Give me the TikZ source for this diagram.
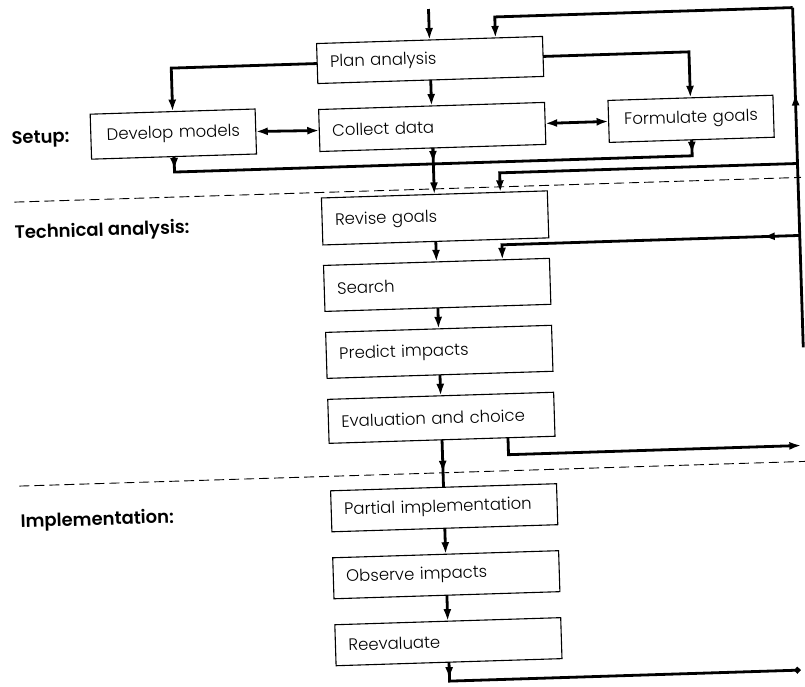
\documentclass[tikz,border=0pt]{standalone}
\usepackage{fontspec}
\setmainfont{Poppins}
\newfontfamily\boxfont{Poppins Light}
\newfontfamily\labfont{Poppins SemiBold}
\usetikzlibrary{arrows.meta,decorations.markings}
\begin{document}
\begin{tikzpicture}[x=1pt,y=-1pt,
  arr/.tip={Latex[length=12pt,width=8pt]},
  box/.style={draw=black, line width=1.1pt, outer sep=0pt, inner xsep=13pt, inner ysep=2pt,
              text width=200pt, align=left, font=\boxfont\fontsize{16.5}{19}\selectfont},
  sbox/.style={box, inner xsep=6pt, text width=153pt, align=center},
  conn/.style={draw=black, line width=2.8pt},
  sepline/.style={draw=black, line width=0.9pt, dash pattern=on 10pt off 5pt},
  lab/.style={anchor=west, inner sep=0pt, font=\labfont\fontsize{18}{21}\selectfont},
  arrowat/.style={postaction={decorate}, decoration={markings, mark=at position #1 with {\arrow{arr}}}},
]
\useasboundingbox (0,0) rectangle (805,686);
\fill[white] (0,0) rectangle (805,686);
\begin{scope}[rotate around={1.8:(402,343)}, transform shape]
% boxes
\node[box, minimum height=40pt] (plan) at (439,61) {Plan analysis};
\node[box, minimum height=42pt] (collect) at (439,128) {Collect data};
\node[sbox, minimum height=45pt] (dev) at (180,127) {Develop models};
\node[sbox, minimum height=42pt] (form) at (698,128) {Formulate goals};
\node[box, minimum height=47pt] (revise) at (439,219) {Revise goals};
\node[box, minimum height=46pt] (search) at (439,286) {Search};
\node[box, minimum height=46pt] (predict) at (439,353) {Predict impacts};
\node[box, minimum height=44pt] (eval) at (439,419) {Evaluation and choice};
\node[box, minimum height=41pt] (partial) at (439,509) {Partial implementation};
\node[box, minimum height=41pt] (observe) at (439,576) {Observe impacts};
\node[box, minimum height=41pt] (reeval) at (439,643) {Reevaluate};
% stage labels
\node[lab] (lsetup) at (18,128) {Setup:};
\node[lab] (ltech) at (18,222) {Technical analysis:};
\node[lab] (limpl) at (15,511) {Implementation:};
% separators
\draw[sepline] (19,190) -- (806,190);
\draw[sepline] (15,474) -- (804,474);
% helper coordinates
\coordinate (in) at (439,10);
\coordinate (pd) at (180,61);
\coordinate (pf) at (698,61);
\coordinate (mL) at (180,165);
\coordinate (mR) at (698,165);
\coordinate (mLa) at (180,163);
\coordinate (mRa) at (698,163);
\coordinate (cA) at (439,164);
\coordinate (fbBot) at (803,360);
\coordinate (fbTop) at (803,20);
\coordinate (fbP) at (505,20);
\coordinate (planIn) at (505,41);
\coordinate (fbR) at (803,176);
\coordinate (fbRc) at (505,176);
\coordinate (revIn) at (505,195.5);
\coordinate (fbS) at (803,248);
\coordinate (fbSc) at (505,248);
\coordinate (seaIn) at (505,263);
\coordinate (evOut) at (505,441);
\coordinate (evC) at (505,458);
\coordinate (evEnd) at (798,458);
\coordinate (rC) at (439,682.5);
\coordinate (rEnd) at (790,682.5);
% setup connectors
\draw[conn,-{arr}] (in) -- (plan.north);
\draw[conn,-{arr}] (plan.south) -- (collect.north);
\draw[conn,-{arr}] (plan.west) -- (pd) -- (dev.north);
\draw[conn,-{arr}] (plan.east) -- (pf) -- (form.north);
\draw[conn,{arr}-{arr}] (dev.east) -- (collect.west);
\draw[conn,{arr}-{arr}] (collect.east) -- (form.west);
\draw[conn] (dev.south) -- (mL) -- (mR) -- (form.south);
\draw[conn,-{arr}] (dev.south) -- (mLa);
\draw[conn,-{arr}] (form.south) -- (mRa);
\draw[conn,-{arr}] (collect.south) -- (revise.north);
\draw[conn,-{arr}] (collect.south) -- (cA);
% feedback loop
\draw[conn, arrowat=254pt] (fbBot) -- (fbTop);
\draw[conn,-{arr}] (fbTop) -- (fbP) -- (planIn);
\draw[conn,-{arr}] (fbR) -- (fbRc) -- (revIn);
\draw[conn,-{arr}, arrowat=37pt] (fbS) -- (fbSc) -- (seaIn);
% technical analysis chain
\draw[conn,-{arr}] (revise.south) -- (search.north);
\draw[conn,-{arr}] (search.south) -- (predict.north);
\draw[conn,-{arr}] (predict.south) -- (eval.north);
\draw[conn, arrowat=33pt] (eval.south) -- (partial.north);
\draw[conn,-{arr}] (evOut) -- (evC) -- (evEnd);
% implementation chain
\draw[conn,-{arr}] (partial.south) -- (observe.north);
\draw[conn,-{arr}] (observe.south) -- (reeval.north);
\draw[conn,-{Circle[length=6pt]}, arrowat=17pt] (reeval.south) -- (rC) -- (rEnd);
\end{scope}
\end{tikzpicture}
\end{document}
